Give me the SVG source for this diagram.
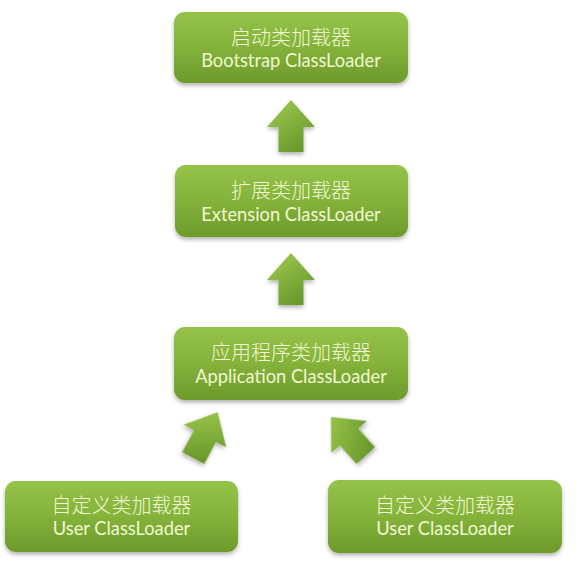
<svg xmlns="http://www.w3.org/2000/svg" width="579" height="566" viewBox="0 0 579 566">
  <defs>
    <linearGradient id="boxg" x1="0" y1="0" x2="0" y2="1">
      <stop offset="0" stop-color="#95c34a"/>
      <stop offset="0.5" stop-color="#84b23a"/>
      <stop offset="1" stop-color="#6d9a2b"/>
    </linearGradient>
    <linearGradient id="arrg" x1="0" y1="0" x2="0.6" y2="1">
      <stop offset="0" stop-color="#a2cd52"/>
      <stop offset="1" stop-color="#6a992b"/>
    </linearGradient>
    <filter id="sh" x="-10%" y="-10%" width="120%" height="130%">
      <feDropShadow dx="0" dy="2.5" stdDeviation="2" flood-color="#000" flood-opacity="0.3"/>
    </filter>
    <path id="arrow" d="M0,-27 L24,0 L12.5,0 L12.5,25 L-12.5,25 L-12.5,0 L-24,0 Z"/>
  </defs>
  <style>
    .box { fill: url(#boxg); filter: url(#sh); }
    .arr { fill: url(#arrg); filter: url(#sh); }
    .t { fill: #f1f7d2; text-anchor: middle; }
    .cn { font-family: "Noto Sans CJK SC", sans-serif; font-size: 20px; font-weight: 300; }
    .en { font-family: "Lato", "Open Sans", sans-serif; font-size: 18.3px; }
  </style>
  <rect width="579" height="566" fill="#ffffff"/>

  <g id="connectors">
    <use href="#arrow" class="arr" transform="translate(291,127)"/>
    <use href="#arrow" class="arr" transform="translate(291,280)"/>
    <use href="#arrow" class="arr" transform="translate(205,436) rotate(28)"/>
    <use href="#arrow" class="arr" transform="translate(349,437) rotate(-42)"/>
  </g>

  <g id="bootstrap">
    <rect class="box" x="174" y="12" width="234" height="71" rx="11"/>
    <text class="t cn" x="291" y="45">启动类加载器</text>
    <text class="t en" x="291" y="67">Bootstrap ClassLoader</text>
  </g>

  <g id="extension">
    <rect class="box" x="175" y="165" width="233" height="72" rx="11"/>
    <text class="t cn" x="291" y="198">扩展类加载器</text>
    <text class="t en" x="291" y="221">Extension ClassLoader</text>
  </g>

  <g id="application">
    <rect class="box" x="174" y="327" width="234" height="73" rx="11"/>
    <text class="t cn" x="291" y="360">应用程序类加载器</text>
    <text class="t en" x="291" y="383">Application ClassLoader</text>
  </g>

  <g id="user1">
    <rect class="box" x="5" y="481" width="233" height="71" rx="11"/>
    <text class="t cn" x="121.5" y="513">自定义类加载器</text>
    <text class="t en" x="121.5" y="535">User ClassLoader</text>
  </g>

  <g id="user2">
    <rect class="box" x="328" y="480" width="234" height="73" rx="11"/>
    <text class="t cn" x="445" y="513">自定义类加载器</text>
    <text class="t en" x="445" y="535">User ClassLoader</text>
  </g>
</svg>
